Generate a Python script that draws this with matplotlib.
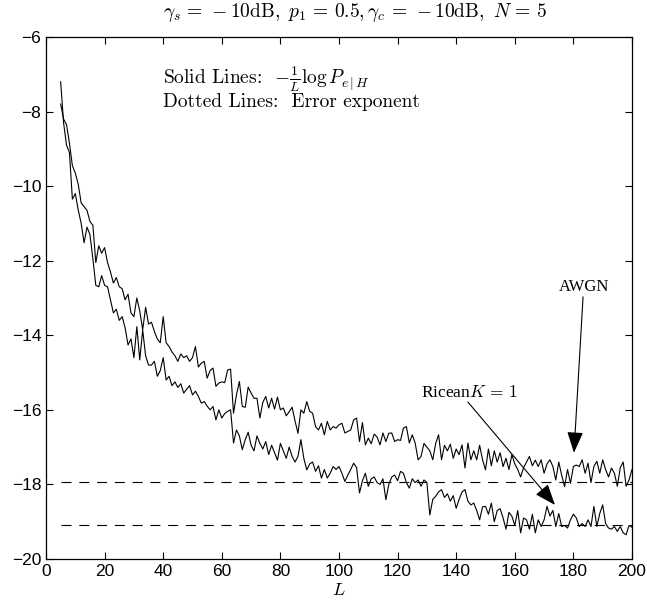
# -*- encoding:utf-8 -*-
# error exponent vs L, AWGN and Ricean K=1
import numpy as np
from matplotlib import pyplot as plt
import matplotlib

matplotlib.rcParams.update({'font.size': 12, 'mathtext.fontset': 'cm',
                            'font.family': 'Liberation Sans'})

L = np.arange(5, 201)

# AWGN (upper at large L)
awgn = [-7.80, -8.20, -8.35, -8.85, -9.45, -9.65, -9.95, -10.45, -10.55, -10.65,
        -10.95, -11.05, -12.05, -11.60, -11.80, -11.65, -12.05, -12.30, -12.60, -12.45,
        -12.70, -12.75, -13.05, -12.90, -13.40, -13.50, -13.00, -13.35, -13.85, -13.25,
        -13.70, -13.65, -13.90, -14.10, -14.20, -13.50, -14.20, -14.30, -14.45, -14.55,
        -14.70, -14.50, -14.60, -14.55, -14.70, -14.60, -14.30, -14.85, -14.75, -14.70,
        -15.15, -14.95, -14.88, -15.37, -15.28, -15.25, -15.27, -14.93, -14.91, -16.09,
        -15.60, -15.24, -15.91, -15.93, -15.39, -15.55, -15.69, -15.69, -16.22, -15.80,
        -15.64, -15.95, -15.69, -15.98, -15.66, -16.00, -15.95, -16.16, -16.05, -15.93,
        -16.30, -16.63, -16.00, -16.09, -15.78, -16.04, -16.09, -16.45, -16.54, -16.36,
        -16.67, -16.31, -16.54, -16.45, -16.49, -16.40, -16.36, -16.62, -16.58, -16.54,
        -16.27, -16.22, -16.85, -16.34, -16.94, -16.76, -16.91, -16.65, -16.73, -16.94,
        -16.62, -16.85, -16.63, -16.62, -16.85, -16.80, -16.82, -16.49, -16.45, -16.89,
        -16.67, -16.89, -17.34, -17.25, -16.90, -17.00, -17.10, -17.34, -16.90, -16.67,
        -17.34, -16.95, -17.10, -16.92, -17.30, -17.05, -17.20, -16.94, -17.56, -16.89,
        -17.34, -17.10, -17.34, -16.95, -17.34, -17.61, -17.05, -17.50, -17.10, -17.40,
        -17.15, -17.52, -17.30, -17.60, -17.20, -17.45, -17.60, -17.80, -17.55, -17.40,
        -17.25, -17.50, -17.35, -17.52, -17.34, -17.70, -17.45, -17.34, -17.52, -17.88,
        -17.40, -17.75, -18.06, -17.60, -17.97, -17.52, -17.48, -17.52, -17.34, -17.70,
        -17.43, -17.95, -17.52, -17.38, -17.70, -17.34, -17.60, -17.80, -17.56, -17.70,
        -18.05, -17.55, -17.40, -18.05, -17.88, -17.60]

# Ricean K=1
ricean = [-7.20, -8.30, -8.90, -9.10, -10.35, -10.20, -10.64, -11.00, -11.52, -11.10,
          -11.30, -11.95, -12.66, -12.70, -12.40, -12.66, -12.70, -13.05, -13.40, -13.30,
          -13.60, -13.50, -13.80, -14.26, -14.10, -14.60, -13.77, -14.66, -13.86, -14.55,
          -14.80, -14.80, -14.70, -15.10, -14.95, -14.60, -15.20, -15.10, -15.35, -15.25,
          -15.40, -15.30, -15.55, -15.45, -15.35, -15.60, -15.50, -15.64, -15.82, -15.78,
          -15.90, -16.00, -15.91, -16.27, -16.00, -16.22, -16.10, -16.04, -16.00, -16.89,
          -16.54, -16.70, -17.07, -16.80, -16.60, -16.95, -17.10, -16.70, -16.90, -17.05,
          -16.85, -17.20, -16.95, -17.15, -17.35, -16.90, -17.10, -17.30, -17.00, -17.25,
          -17.40, -17.25, -16.80, -17.30, -17.61, -17.45, -17.40, -17.65, -17.50, -17.83,
          -17.60, -17.83, -17.70, -17.52, -17.60, -17.52, -17.70, -17.92, -17.75, -17.60,
          -17.43, -17.55, -18.23, -17.90, -17.70, -18.05, -17.85, -17.80, -17.95, -18.00,
          -17.85, -18.41, -18.00, -17.80, -17.75, -17.90, -17.65, -17.70, -17.95, -18.10,
          -17.85, -17.95, -17.88, -18.05, -17.88, -17.95, -18.82, -18.40, -18.32, -18.20,
          -18.14, -18.35, -18.25, -18.45, -18.30, -18.64, -18.40, -18.20, -18.14, -18.45,
          -18.55, -18.50, -18.70, -18.95, -18.60, -18.59, -18.80, -18.50, -19.00, -18.70,
          -18.65, -18.90, -19.20, -18.75, -18.85, -19.10, -18.70, -19.30, -18.90, -18.95,
          -19.20, -18.80, -19.30, -18.95, -19.13, -18.95, -18.59, -18.85, -18.70, -19.13,
          -18.78, -19.13, -19.10, -19.17, -18.95, -18.80, -18.90, -19.13, -19.05, -19.13,
          -18.95, -19.13, -18.59, -19.13, -18.78, -18.55, -19.05, -19.17, -19.20, -19.13,
          -19.26, -19.13, -19.30, -19.35, -19.10, -19.15]

# error exponents (dashed)
exp_awgn = -17.94
exp_ricean = -19.09

fig = plt.figure(figsize=(6.47, 6.07), dpi=100)
ax = fig.add_axes([0.0711, 0.0791, 0.9057, 0.8600])

ax.plot(L, awgn, color='k', lw=0.8)
ax.plot(L, ricean, color='k', lw=0.8)
ax.plot([L[0], L[-1]], [exp_awgn, exp_awgn], color='k', lw=0.8, linestyle=(0, (9, 7)))
ax.plot([L[0], L[-1]], [exp_ricean, exp_ricean], color='k', lw=0.8, linestyle=(0, (9, 7)))

ax.set_xlim(0, 200)
ax.set_ylim(-20, -6)
ax.set_xticks(np.arange(0, 201, 20))
ax.set_yticks(np.arange(-20, -5, 2))
ax.tick_params(direction='in', top=True, right=True, length=5, width=0.8, labelsize=12.5)
for s in ax.spines.values():
    s.set_linewidth(0.9)
ax.set_xlabel(r'$L$', fontsize=13, labelpad=2)

fig.text(0.549, 0.972,
         r'$\gamma_s \,=\, -10\mathrm{dB},\ p_1 \,=\, 0.5, \gamma_c \,=\, -10\mathrm{dB},\ N \,=\, 5$',
         ha='center', va='baseline', fontsize=14)

ax.text(39.9, -7.26, r'Solid Lines:  $-\frac{1}{L}\log P_{e\,|\,H}$',
        ha='left', va='baseline', fontsize=14, family='cmr10')
ax.text(39.9, -7.88, 'Dotted Lines:  Error exponent',
        ha='left', va='baseline', fontsize=14, family='cmr10')

arrow = dict(arrowstyle='-|>,head_length=0.65,head_width=0.25', color='k', lw=0.8,
             mutation_scale=20, shrinkA=0, shrinkB=0)
ax.text(183.6, -12.70, 'AWGN', ha='center', va='center', fontsize=12, family='Liberation Serif')
ax.annotate('', xy=(180.2, -17.15), xytext=(183.3, -12.97), arrowprops=arrow)
ax.text(128, -15.65, r'Ricean$K\,=\,1$', ha='left', va='baseline', fontsize=12.5,
        family='Liberation Serif')
ax.annotate('', xy=(173.7, -18.55), xytext=(144, -15.79), arrowprops=arrow)

plt.savefig('out.png', dpi=100)
